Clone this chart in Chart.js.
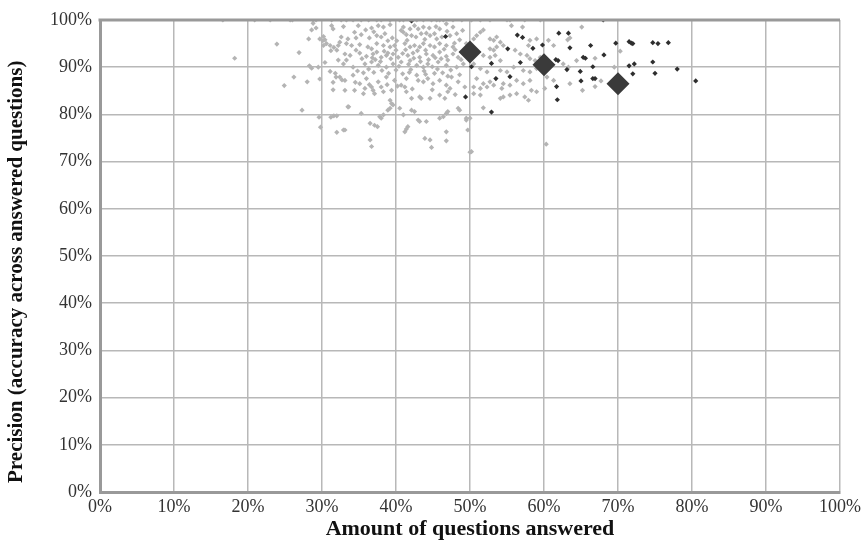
<!DOCTYPE html>
<html>
<head>
<meta charset="utf-8">
<script src="https://cdn.jsdelivr.net/npm/chart.js@4.4.1/dist/chart.umd.min.js"></script>
<style>
  html, body { margin: 0; padding: 0; background: #ffffff; }
  #wrap { width: 866px; height: 548px; }
</style>
</head>
<body>
<div id="wrap"><canvas id="c" width="866" height="548"></canvas></div>
<script>
// Axis tick labels
const xTickLabels = ["0%","10%","20%","30%","40%","50%","60%","70%","80%","90%","100%"];
const yTickLabels = ["0%","10%","20%","30%","40%","50%","60%","70%","80%","90%","100%"];

// Light grey series: [amount answered %, precision %]
const grayPoints = [
  [16.6,100],[20.9,100],[23.0,100],[25.7,100],[26.0,100],[28.8,100],[29.2,100],[31.3,100],[32.6,100],[33.3,100],
  [34.2,100],[35.3,100],[36.3,100],[37.4,100],[38.0,100],[39.2,100],[40.5,100],[41.0,100],[42.8,100],[43.7,100],
  [44.8,100],[45.5,100],[45.9,100],[46.4,100],[47.7,100],[48.9,100],[50.2,100],[51.4,100],[52.7,100],[55.0,100],
  [55.4,100],[57.4,100],[59.5,100],
  [18.2,91.9],[23.9,94.9],[26.9,93.1],[24.9,86.1],[26.2,87.9],[28.0,86.9],[27.3,80.9],[28.2,96.0],[28.6,97.9],
  [29.2,98.3],[28.8,99.3],[28.3,90.3],[28.6,89.8],[29.5,90.0],[29.7,87.5],[29.6,79.4],[29.8,77.3],
  [29.7,96.0],[30.1,95.6],[30.4,95.8],[30.6,95.0],[30.2,94.6],[31.1,94.6],[31.6,94.2],[32.2,94.6],[31.2,93.5],
  [32.0,93.6],[30.2,96.5],[31.3,98.8],[31.5,98.1],
  [30.4,91.0],[32.2,91.5],[33.3,91.5],[31.1,89.1],[31.8,88.7],[31.9,87.9],[31.5,86.8],[32.7,87.3],[31.5,85.2],
  [31.2,79.4],[31.6,79.7],[32.0,79.7],[32.0,76.2],[33.1,76.7],[33.6,81.6],
  [32.9,98.6],[34.9,98.8],[36.7,98.3],[37.6,98.8],[38.3,98.5],[39.2,99.0],[41.0,98.5],[41.9,98.1],[42.5,98.8],
  [43.0,98.1],[43.7,98.5],[44.5,98.3],[45.4,98.6],[45.9,98.1],[46.8,99.2],[47.7,98.5],
  [32.6,96.4],[33.5,96.0],[34.4,97.4],[35.3,96.9],[36.4,96.2],[37.4,96.7],[38.0,96.4],[38.5,97.1],[41.0,97.4],
  [41.4,96.9],[42.1,96.7],[42.7,96.4],[43.4,97.1],[44.1,97.2],[44.6,96.7],[45.2,97.1],[45.5,96.0],[47.3,96.7],
  [48.2,97.1],[48.6,95.8],
  [32.4,95.3],[33.3,95.0],[34.0,94.6],[35.1,94.8],[36.2,94.3],[36.7,93.9],[37.4,95.0],[38.3,94.6],[39.2,94.3],
  [39.8,94.6],[41.2,95.0],[41.9,94.3],[42.5,94.6],[43.2,94.3],[43.7,95.0],[44.6,94.6],[45.2,94.3],[45.9,95.0],
  [46.8,94.6],[47.7,94.3],[47.9,95.1],
  [33.1,92.8],[33.8,92.5],[35.1,93.0],[36.0,92.3],[36.9,92.8],[37.4,93.2],[38.0,92.1],[38.7,92.5],[39.6,92.8],
  [40.3,92.1],[41.6,92.5],[42.3,93.0],[43.2,92.1],[44.1,92.8],[45.0,92.5],[45.9,93.2],[46.8,92.3],[47.7,92.8],
  [48.4,92.1],
  [32.9,90.7],[34.2,90.0],[35.8,90.7],[36.7,91.1],[37.6,90.4],[38.7,90.0],[39.6,90.7],[40.7,91.1],[41.9,91.4],
  [42.8,90.4],[43.7,90.0],[44.3,90.7],[45.7,91.1],[46.8,90.4],[48.2,90.0],[49.1,90.7],
  [32.4,87.9],[33.1,87.2],[34.2,88.3],[35.1,86.5],[36.0,87.6],[36.7,85.8],[37.6,86.9],[38.7,87.9],[39.8,87.2],
  [40.7,86.2],[41.4,87.6],[42.8,88.3],[43.7,86.9],[44.3,87.6],[45.0,86.5],[45.9,87.2],[46.8,86.2],[47.5,87.9],
  [48.4,86.9],[49.3,85.8],
  [33.1,85.1],[34.4,85.1],[35.6,84.4],[35.8,85.5],[36.9,85.1],[37.1,84.4],[38.0,85.8],[38.3,84.8],[39.4,85.1],
  [39.2,83.0],[39.4,82.3],[39.6,82.0],[41.4,84.8],[41.2,85.8],[42.1,83.4],[43.2,83.7],[43.4,83.4],[44.6,83.4],
  [45.9,84.1],[46.6,83.4],[47.0,84.8],[47.3,85.5],
  [33.5,81.6],[35.3,80.2],[37.8,79.5],[38.0,79.2],[38.3,79.9],[37.1,77.7],[36.5,78.1],[38.9,80.9],[39.2,81.3],
  [40.5,81.3],[41.0,79.9],[42.1,80.9],[42.5,80.6],[43.0,78.8],[43.2,78.5],[44.1,78.5],[45.9,79.2],[46.4,79.5],
  [46.8,80.2],[47.0,80.6],[48.4,81.3],[48.6,80.9],[49.5,79.2],
  [32.9,76.7],[36.5,74.6],[36.7,73.2],[41.2,76.3],[41.4,76.9],[41.6,77.4],[43.9,74.9],[44.6,74.6],[44.8,73.0],
  [46.8,76.3],[46.8,74.4],[49.7,76.7],[50.0,72.0],[37.5,77.4],[49.5,78.8],
  [36.8,92.0],[37.2,91.6],[37.9,91.2],[38.4,93.4],[38.9,93.0],[39.3,91.8],[40.0,93.6],[40.4,90.2],[40.9,92.9],
  [41.3,93.7],[41.7,90.6],[42.0,89.5],[42.4,91.9],[42.9,93.5],[43.3,91.2],[43.8,89.2],[44.0,93.6],[44.4,91.6],
  [44.9,90.1],[45.3,92.0],[45.6,89.6],[46.1,91.8],[46.5,93.8],[47.0,91.5],[47.4,89.4],[48.0,93.7],[48.8,91.6],
  [49.4,93.9],[35.4,91.8],[34.6,93.6],[34.8,89.2],[35.6,88.8],[36.3,89.6],[37.0,88.9],[38.1,89.3],[39.0,88.7],
  [40.0,89.4],[40.9,88.6],[41.8,88.9],[43.0,87.2],[44.0,88.5],[45.2,88.7],[46.3,88.8],[47.0,88.1],[48.6,88.4],
  [39.5,96.2],[40.1,95.6],[40.7,97.8],[41.5,95.7],[43.9,95.9],[46.2,96.4],[46.9,97.6],[49.0,97.8],[49.5,95.0],
  [38.9,95.6],[37.0,97.5],[35.9,97.9],[34.6,96.2],[40.2,86.0],[42.2,85.4],[44.9,85.2],[48.0,84.2],[38.8,86.3],
  [36.4,86.3],[34.5,86.8],
  [51.8,97.9],[51.4,97.4],[50.9,96.7],[50.5,96.0],[52.7,96.0],[53.2,95.7],[53.6,96.4],[54.1,95.3],[54.5,94.6],
  [55.6,98.8],[57.1,98.5],[58.1,95.7],[59.0,96.0],[57.9,94.6],[56.1,93.6],[56.8,92.8],[52.7,93.9],[53.2,93.6],
  [53.6,94.3],[51.8,92.5],[52.7,92.1],[53.4,92.5],[54.1,91.4],[57.7,92.5],[58.1,91.8],[58.8,91.4],[59.5,92.1],
  [50.5,90.7],[51.4,89.7],[52.3,89.0],[54.1,89.3],[55.0,89.0],[55.9,90.0],[57.2,89.3],[58.1,89.0],[59.0,89.7],
  [56.3,87.2],[57.2,86.5],[58.1,87.2],[50.9,87.6],[51.8,86.5],[52.7,86.9],[54.5,86.5],[55.4,86.2],
  [60.6,95.7],[61.3,94.6],[63.2,95.8],[63.5,96.2],[65.1,98.5],[60.4,87.9],[61.3,87.2],[62.6,90.7],[63.3,90.0],
  [64.4,91.4],[63.5,86.5],
  [50.5,85.8],[51.4,85.5],[52.3,85.8],[53.2,86.2],[54.3,85.5],[51.4,84.1],[50.5,84.4],[54.1,83.4],[54.5,83.7],
  [55.4,84.1],[56.3,84.4],[57.4,83.7],[57.9,83.0],[58.3,85.1],[59.0,84.8],[60.1,85.5],[51.8,81.4],[65.2,85.1],
  [50.0,79.2],[50.2,72.1],[60.3,73.7],
  [66.9,91.9],[70.3,93.4],[69.5,90.0],[67.7,87.1],[66.9,85.9]
];

// Dark series
const darkPoints = [
  [42.1,99.8],[46.7,96.5],[49.4,83.7],[50.2,90.1],[52.9,90.8],[52.9,80.5],[53.5,87.6],[55.1,93.9],[55.4,88.0],
  [56.4,96.8],[57.1,96.3],[56.8,91.0],[58.5,94.0],[59.8,94.7],[61.6,91.6],[61.9,91.4],[61.7,85.9],[61.8,83.1],
  [62.0,97.2],[63.3,97.2],[63.5,94.1],[63.1,89.5],[64.9,89.1],[65.0,87.1],[65.3,92.1],[65.6,91.9],[66.3,94.6],
  [66.6,90.1],[66.6,87.6],[66.9,87.6],[68.0,100],[68.1,92.6],[69.7,95.1],[71.5,95.4],[71.8,95.1],[72.0,95.0],
  [71.5,90.3],[72.2,90.7],[72.0,88.6],[74.7,95.2],[75.4,95.0],[76.8,95.2],[74.7,91.1],[75.0,88.7],[78.0,89.6],
  [80.5,87.1]
];

// Large markers
const bigPoints = [[50,93.2],[60,90.5],[70,86.5]];

const toXY = arr => arr.map(p => ({x: p[0], y: p[1]}));

const FONT = "'Liberation Serif', 'Times New Roman', serif";

const topBorder = {
  id: 'topBorder',
  afterDatasetsDraw(chart) {
    const {ctx, chartArea} = chart;
    ctx.save();
    ctx.strokeStyle = '#999999';
    ctx.lineWidth = 3;
    ctx.beginPath();
    ctx.moveTo(chartArea.left - 1.5, chartArea.top);
    ctx.lineTo(chartArea.right, chartArea.top);
    ctx.stroke();
    ctx.restore();
  }
};

new Chart(document.getElementById('c'), {
  type: 'scatter',
  data: {
    datasets: [
      { label: 'big', data: toXY(bigPoints), pointStyle: 'rectRot', pointRadius: 11.5,
        backgroundColor: '#3a3a3a', borderWidth: 0, pointHoverRadius: 11.5 },
      { label: 'dark', data: toXY(darkPoints), pointStyle: 'rectRot', pointRadius: 2.6,
        backgroundColor: '#2e2e2e', borderWidth: 0, pointHoverRadius: 2.6 },
      { label: 'gray', data: toXY(grayPoints), pointStyle: 'rectRot', pointRadius: 2.6,
        backgroundColor: '#b4b4b4', borderWidth: 0, pointHoverRadius: 2.6 }
    ]
  },
  options: {
    responsive: false,
    animation: false,
    events: [],
    layout: { padding: { top: 20, right: 26, left: 0, bottom: 0 } },
    plugins: { legend: { display: false }, tooltip: { enabled: false } },
    scales: {
      x: {
        type: 'linear', min: 0, max: 100,
        afterFit(s) { s.height = 56; },
        afterBuildTicks(s) { s.ticks = xTickLabels.map((_, i) => ({value: i * 10})); },
        ticks: { callback: (v, i) => xTickLabels[i], color: '#333333', padding: 4,
                 font: { family: FONT, size: 18 }, maxRotation: 0 },
        grid: { color: '#b8b8b8', lineWidth: 1.5, drawTicks: false },
        border: { display: true, color: '#999999', width: 3 },
        title: { display: true, text: 'Amount of questions answered', color: '#111111',
                 font: { family: FONT, size: 22, weight: 'bold' }, padding: { top: 0, bottom: 5 } }
      },
      y: {
        type: 'linear', min: 0, max: 100,
        afterFit(s) { s.width = 100; },
        afterBuildTicks(s) { s.ticks = yTickLabels.map((_, i) => ({value: i * 10})); },
        ticks: { callback: (v, i) => yTickLabels[i], color: '#333333', padding: 8,
                 font: { family: FONT, size: 18 } },
        grid: { color: '#b8b8b8', lineWidth: 1.5, drawTicks: false },
        border: { display: true, color: '#999999', width: 3 },
        title: { display: true, text: 'Precision (accuracy across answered questions)\u2003\u2002', color: '#111111',
                 font: { family: FONT, size: 21, weight: 'bold' }, padding: { top: 4, bottom: 4 } }
      }
    }
  },
  plugins: [topBorder]
});
</script>
</body>
</html>
